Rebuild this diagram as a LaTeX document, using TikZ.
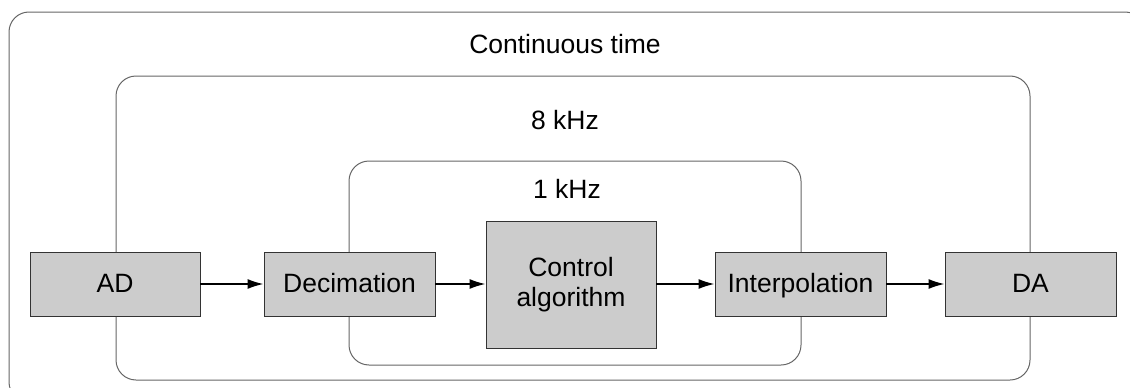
\documentclass[tikz,border=0pt]{standalone}
\usepackage{fontspec}
\setmainfont{Liberation Sans}
\usetikzlibrary{arrows.meta}
\begin{document}
\begin{tikzpicture}[x=1pt,y=-1pt,
  frame/.style={draw=black!60, line width=1pt, rounded corners=20pt},
  block/.style={draw=black!80, fill=black!20, line width=0.9pt, inner sep=0pt,
    font=\fontsize{26.5}{30}\selectfont, align=center},
  oneline/.style={text height=19pt, text depth=2pt},
  lbl/.style={font=\fontsize{26.5}{30}\selectfont, inner sep=0pt},
  flow/.style={-{Latex[length=16pt,width=10pt]}, line width=1.5pt}]
\useasboundingbox (0,0) rectangle (1130,388);
\begin{scope}
\clip (0,0) rectangle (1130,388);
% nested sampling-rate domains
\draw[frame] (9,12) rectangle (1145,402);
\draw[frame] (116,76) rectangle (1030,380);
\draw[frame] (349,161) rectangle (801,365);
\end{scope}
\node[lbl] (ct) at (565,44) {Continuous time};
\node[lbl] (f8) at (565,120) {8 kHz};
\node[lbl] (f1) at (567,189) {1 kHz};
% signal chain
\node[block, oneline, minimum width=170pt, minimum height=64pt] (ad) at (115,284) {AD};
\node[block, oneline, minimum width=171pt, minimum height=64pt] (dec) at (349.5,284) {Decimation};
\node[block, minimum width=170pt, minimum height=127pt] (ctl) at (571,284.5) {Control\\algorithm};
\node[block, oneline, minimum width=171pt, minimum height=64pt] (int) at (800.5,284) {Interpolation};
\node[block, oneline, minimum width=171pt, minimum height=64pt] (da) at (1030.5,284) {DA};
\draw[flow] (ad) -- (dec);
\draw[flow] (dec) -- (dec -| ctl.west);
\draw[flow] (ctl.east |- int) -- (int);
\draw[flow] (int) -- (da);
\end{tikzpicture}
\end{document}
